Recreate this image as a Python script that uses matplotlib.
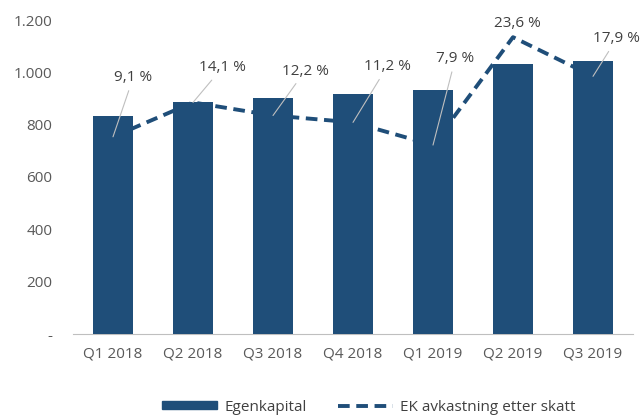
import matplotlib
matplotlib.use("Agg")
import matplotlib.pyplot as plt
from matplotlib.patches import Patch
from matplotlib.lines import Line2D

categories = ["Q1 2018", "Q2 2018", "Q3 2018", "Q4 2018", "Q1 2019", "Q2 2019", "Q3 2019"]
egenkapital = [834, 887, 902, 918, 933, 1032, 1044]
ek_avkastning = [9.1, 14.1, 12.2, 11.2, 7.9, 23.6, 17.9]
yticks = [0, 200, 400, 600, 800, 1000, 1200]
ytick_labels = ["-", "200", "400", "600", "800", "1.000", "1.200"]
label_offsets = [(14.5, 42.5), (21, 25), (23, 32), (24.5, 40), (16, 62), (3, 9.5), (17, 27)]

plt.rcParams['font.family'] = ['Open Sans', 'DejaVu Sans']
bar_color = "#1F4E79"
text_color = "#404040"

fig = plt.figure(figsize=(6.43, 4.19), dpi=100)
ax = fig.add_axes([73/643, 1-334/419, 560/643, 314/419])
x = list(range(len(categories)))
ax.bar(x, egenkapital, width=0.5, color=bar_color, zorder=3)
ax.set_xlim(-0.5, len(categories)-0.5)
ax.set_ylim(0, 1200)
ax.set_yticks(yticks)
ax.set_yticklabels(ytick_labels)
ax.set_xticks(x)
ax.set_xticklabels(categories)
for s in ["left", "right", "top"]:
    ax.spines[s].set_visible(False)
ax.spines["bottom"].set_color("#BFBFBF")
ax.tick_params(axis="both", length=0, labelsize=11, colors="#595959")
ax.tick_params(axis="y", pad=15)
ax.tick_params(axis="x", pad=9)

ax2 = ax.twinx()
ax2.set_ylim(-19.6, 26.1)
ax2.axis("off")
ax.set_zorder(2)
ax.patch.set_visible(False)
ax2.set_zorder(1)
ax2.plot(x, ek_avkastning, color=bar_color, lw=2.8, ls=(0, (3.0, 1.7)), zorder=1)

for xi, p, (dx, dy) in zip(x, ek_avkastning, label_offsets):
    lbl = f"{p:.1f} %".replace(".", ",")
    long_leader = (dx**2 + dy**2) ** 0.5 > 15
    ax.annotate(lbl, xy=(xi, p), xycoords=ax2.transData,
                xytext=(dx, dy), textcoords="offset points",
                ha="center", va="center", fontsize=11, color=text_color,
                arrowprops=dict(arrowstyle="-", color="#BFBFBF", lw=0.8,
                                shrinkA=2, shrinkB=0) if long_leader else None,
                zorder=5)

handles = [Patch(facecolor=bar_color, edgecolor=bar_color),
           Line2D([0], [0], color=bar_color, lw=2.8, ls=(0, (3.0, 1.7)))]
fig.legend(handles, ["Egenkapital", "EK avkastning etter skatt"], loc="center",
           bbox_to_anchor=(369/643, 1-407/419), ncol=2, frameon=False,
           fontsize=11, handlelength=3.6, handleheight=0.45, columnspacing=2.0,
           handletextpad=0.5, labelcolor=text_color)

fig.savefig("out.png", dpi=100)
